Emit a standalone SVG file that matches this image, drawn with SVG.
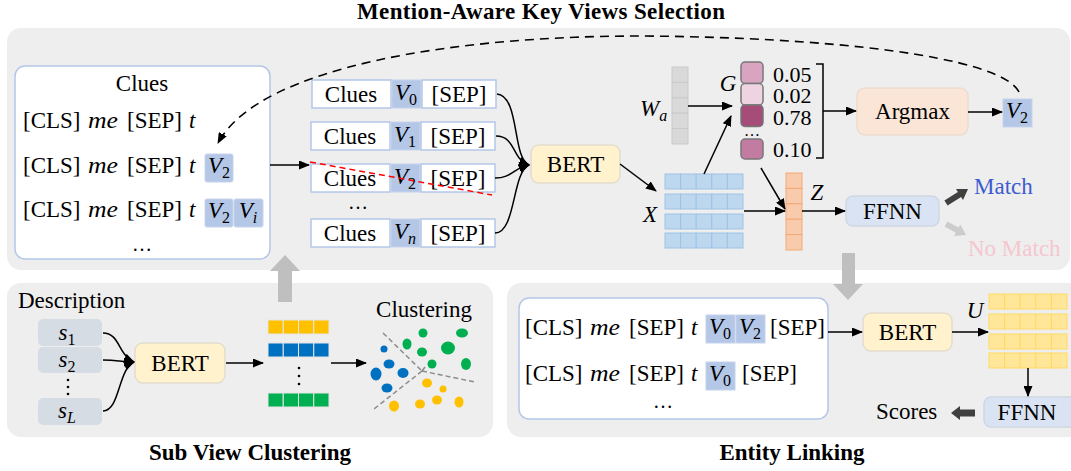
<svg xmlns="http://www.w3.org/2000/svg" xmlns:xlink="http://www.w3.org/1999/xlink" width="1071" height="471" viewBox="0 0 1071 471">
<style>
text{font-family:"Liberation Serif","Times New Roman",serif;font-size:23px;fill:#000}
.i{font-style:italic}
.b{font-weight:bold}
.sub{font-size:16px;font-style:normal}
.subi{font-size:16px;font-style:italic}
.num{font-size:22px}
.panel{fill:#eeeeee}
.wbox{fill:#ffffff;stroke:#b4c7e7;stroke-width:1.5}
.vbox{fill:#b4c7e7;stroke:#c6d4ec;stroke-width:1}
.bert{fill:#fff2cc;stroke:#e3ddcf;stroke-width:1.5}
.ffnn{fill:#dae3f3;stroke:#cfd7e5;stroke-width:1.5}
.argmax{fill:#fbe5d6;stroke:#ecdcd0;stroke-width:1.5}
.sbox{fill:#d6dce4}
.ln{fill:none;stroke:#000;stroke-width:1.5}
.dash{fill:none;stroke:#000;stroke-width:1.6;stroke-dasharray:9 6}
.gray{fill:#bfbfbf}
.g{stroke:#777777;stroke-width:1.5}
.cl{fill:none;stroke:#8c8c8c;stroke-width:1.5;stroke-dasharray:5 3}
</style>
<defs>
<marker id="ah" markerUnits="userSpaceOnUse" markerWidth="11" markerHeight="9" refX="10" refY="4.5" orient="auto"><path d="M0,0 L11,4.5 L0,9 z" fill="#000"/></marker>
<g id="c5h"><rect x="0" y="0" width="15.6" height="15"/><rect x="15.6" y="0" width="15.6" height="15"/><rect x="31.2" y="0" width="15.6" height="15"/><rect x="46.8" y="0" width="15.6" height="15"/><rect x="62.4" y="0" width="15.6" height="15"/></g>
<g id="c5v"><rect x="0" y="0" width="16" height="15.4"/><rect x="0" y="15.4" width="16" height="15.4"/><rect x="0" y="30.8" width="16" height="15.4"/><rect x="0" y="46.2" width="16" height="15.4"/><rect x="0" y="61.6" width="16" height="15.4"/></g>
<g id="c4h"><rect x="0" y="0" width="15.25" height="14"/><rect x="15.25" y="0" width="15.25" height="14"/><rect x="30.5" y="0" width="15.25" height="14"/><rect x="45.75" y="0" width="15.25" height="14"/></g>
</defs>

<rect width="1071" height="471" fill="#ffffff"/>

<!-- panels -->
<g id="panels">
<rect class="panel" x="7" y="28" width="1063" height="242" rx="14"/>
<rect class="panel" x="7" y="283" width="486" height="154" rx="14"/>
<rect class="panel" x="507" y="283" width="580" height="154" rx="14"/>
<text class="b" x="541" y="19" text-anchor="middle" textLength="368">Mention-Aware Key Views Selection</text>
<text class="b" x="250" y="460" text-anchor="middle">Sub View Clustering</text>
<text class="b" x="792" y="460" text-anchor="middle">Entity Linking</text>
</g>

<!-- big gray arrows -->
<g id="flow-arrows">
<path class="gray" d="M278,302 V271 H270 L285,255 L300,271 H292 V302 z"/>
<path class="gray" d="M842,253 V284 H833 L848,300 L863,284 H855 V253 z"/>
</g>

<!-- clues box -->
<g id="clues">
<rect class="wbox" x="15" y="66" width="255" height="193" rx="10"/>
<text x="142" y="91" text-anchor="middle">Clues</text>
<text x="23" y="128">[CLS]</text><text class="i" x="88" y="128" textLength="30" lengthAdjust="spacingAndGlyphs">me</text><text x="127" y="128">[SEP]</text><text class="i" x="189" y="128">t</text>
<text x="23" y="173">[CLS]</text><text class="i" x="88" y="173" textLength="30" lengthAdjust="spacingAndGlyphs">me</text><text x="127" y="173">[SEP]</text><text class="i" x="189" y="173">t</text>
<rect class="vbox" x="205" y="154" width="28" height="28" rx="2"/>
<text class="i" x="219" y="173" text-anchor="middle">V<tspan class="sub" dy="5">2</tspan></text>
<text x="23" y="217">[CLS]</text><text class="i" x="88" y="217" textLength="30" lengthAdjust="spacingAndGlyphs">me</text><text x="127" y="217">[SEP]</text><text class="i" x="189" y="217">t</text>
<rect class="vbox" x="205" y="199" width="28" height="28" rx="2"/>
<text class="i" x="219" y="218" text-anchor="middle">V<tspan class="sub" dy="5">2</tspan></text>
<rect class="vbox" x="234" y="199" width="29" height="28" rx="2"/>
<text class="i" x="248" y="218" text-anchor="middle">V<tspan class="subi" dy="5">i</tspan></text>
<text x="142" y="251" text-anchor="middle" style="font-size:20px">…</text>
</g>

<!-- candidate list -->
<g id="candidates">
<rect class="wbox" x="312" y="80" width="79" height="28"/>
<rect class="vbox" x="392" y="80" width="29" height="28"/>
<rect class="wbox" x="422" y="80" width="74" height="28"/>
<text x="351" y="102" text-anchor="middle">Clues</text>
<text class="i" x="406" y="100" text-anchor="middle">V<tspan class="sub" dy="5">0</tspan></text>
<text x="459" y="102" text-anchor="middle">[SEP]</text>

<rect class="wbox" x="311" y="122" width="79" height="28"/>
<rect class="vbox" x="391" y="122" width="29" height="28"/>
<rect class="wbox" x="421" y="122" width="74" height="28"/>
<text x="350" y="144" text-anchor="middle">Clues</text>
<text class="i" x="405" y="142" text-anchor="middle">V<tspan class="sub" dy="5">1</tspan></text>
<text x="458" y="144" text-anchor="middle">[SEP]</text>

<rect class="wbox" x="311" y="164" width="79" height="28"/>
<rect class="vbox" x="391" y="164" width="29" height="28"/>
<rect class="wbox" x="421" y="164" width="74" height="28"/>
<text x="350" y="186" text-anchor="middle">Clues</text>
<text class="i" x="405" y="184" text-anchor="middle">V<tspan class="sub" dy="5">2</tspan></text>
<text x="458" y="186" text-anchor="middle">[SEP]</text>

<text x="358" y="209" text-anchor="middle" style="font-size:20px">…</text>

<rect class="wbox" x="311" y="219" width="79" height="28"/>
<rect class="vbox" x="391" y="219" width="29" height="28"/>
<rect class="wbox" x="421" y="219" width="74" height="28"/>
<text x="350" y="241" text-anchor="middle">Clues</text>
<text class="i" x="405" y="239" text-anchor="middle">V<tspan class="subi" dy="5">n</tspan></text>
<text x="458" y="241" text-anchor="middle">[SEP]</text>
<line x1="310" y1="162" x2="492" y2="195" stroke="#ff0000" stroke-width="1.5" stroke-dasharray="6 4"/>
</g>

<g id="bert-top">
<rect class="bert" x="531" y="145" width="89" height="38" rx="8"/>
<text x="575.5" y="172" text-anchor="middle">BERT</text>
</g>

<g id="wa">
<use href="#c5v" x="672" y="67" fill="#d9d9d9" stroke="#c9c9c9"/>
<text class="i" x="640" y="116">W<tspan class="subi" dy="5">a</tspan></text>
</g>

<g id="x-matrix">
<use href="#c5h" x="665" y="174" fill="#bdd7ee" stroke="#9dc3e6"/>
<use href="#c5h" x="665" y="194" fill="#bdd7ee" stroke="#9dc3e6"/>
<use href="#c5h" x="665" y="214" fill="#bdd7ee" stroke="#9dc3e6"/>
<use href="#c5h" x="665" y="233" fill="#bdd7ee" stroke="#9dc3e6"/>
<text class="i" x="650" y="222" text-anchor="middle">X</text>
</g>

<g id="g-scores">
<text class="i" x="728" y="91" text-anchor="middle">G</text>
<rect class="g" x="741" y="62" width="22" height="21.5" rx="4" fill="#d8a4c0"/>
<rect class="g" x="741" y="83.5" width="22" height="21.5" rx="4" fill="#eed3e1"/>
<rect class="g" x="741" y="105" width="22" height="21.5" rx="4" fill="#a64c79"/>
<text x="752" y="136" text-anchor="middle" style="font-size:16px">…</text>
<rect class="g" x="741" y="139" width="22" height="20" rx="4" fill="#c47ba1"/>
<text class="num" x="773" y="82">0.05</text>
<text class="num" x="773" y="103">0.02</text>
<text class="num" x="773" y="125">0.78</text>
<text class="num" x="773" y="157">0.10</text>
<path class="ln" d="M816,64 H823 V158 H816"/>
</g>

<g id="argmax">
<rect class="argmax" x="857" y="88" width="111" height="47" rx="8"/>
<text x="912.5" y="119" text-anchor="middle">Argmax</text>
</g>

<g id="v2-out">
<rect class="vbox" x="1003" y="99" width="29" height="28"/>
<text class="i" x="1017" y="118" text-anchor="middle">V<tspan class="sub" dy="5">2</tspan></text>
</g>

<g id="z-col">
<use href="#c5v" x="786" y="173" fill="#f8cbad" stroke="#f4a876"/>
<text class="i" x="817" y="200" text-anchor="middle">Z</text>
</g>

<g id="ffnn-top">
<rect class="ffnn" x="846" y="196" width="93" height="30" rx="7"/>
<text x="892.5" y="219" text-anchor="middle">FFNN</text>
</g>

<g id="match">
<polygon fill="#404040" points="947.6,205.5 961.1,196.9 963,199.9 968,189 956,188.9 957.9,191.9 944.4,200.5"/>
<text x="974" y="194" style="fill:#3b5ccf">Match</text>
</g>
<g id="nomatch">
<polygon fill="#cccccc" points="944.6,226.6 955.8,232.8 954.1,235.9 966,235 960.3,224.5 958.6,227.6 947.4,221.4"/>
<text x="968" y="256" style="fill:#f5c6d0">No Match</text>
</g>

<!-- bottom left -->
<g id="description">
<text x="18" y="308">Description</text>
<rect class="sbox" x="38" y="319" width="64" height="27" rx="5"/>
<rect class="sbox" x="38" y="347" width="64" height="26" rx="5"/>
<rect class="sbox" x="38" y="398" width="64" height="27" rx="5"/>
<text class="i" x="67" y="340" text-anchor="middle">s<tspan class="sub" dy="5">1</tspan></text>
<text class="i" x="67" y="367" text-anchor="middle">s<tspan class="sub" dy="5">2</tspan></text>
<text class="i" x="67" y="418" text-anchor="middle">s<tspan class="subi" dy="5">L</tspan></text>
<circle cx="68" cy="380" r="1.3"/><circle cx="68" cy="387" r="1.3"/><circle cx="68" cy="394" r="1.3"/>
</g>

<g id="bert-bl">
<rect class="bert" x="135" y="343" width="90" height="40" rx="8"/>
<text x="180" y="371" text-anchor="middle">BERT</text>
</g>

<g id="embeddings">
<use href="#c4h" x="268" y="320" fill="#ffc000" stroke="#e6e6e6"/>
<use href="#c4h" x="268" y="343" fill="#0070c0" stroke="#e6e6e6"/>
<use href="#c4h" x="268" y="393" fill="#00b050" stroke="#e6e6e6"/>
<circle cx="299" cy="368" r="1.3"/><circle cx="299" cy="376" r="1.3"/><circle cx="299" cy="384" r="1.3"/>
</g>

<g id="clustering">
<text x="424" y="317" text-anchor="middle">Clustering</text>
<path class="cl" d="M383,333 L422,371 M422,371 L475,382 M422,371 L374,409 M422,371 L425,367"/>
<g fill="#0070c0">
<ellipse cx="384" cy="349" rx="3.5" ry="3.5"/>
<ellipse cx="389" cy="364" rx="5.5" ry="4.5"/>
<ellipse cx="376" cy="374" rx="5.5" ry="6.5"/>
<ellipse cx="403" cy="373" rx="5.5" ry="5"/>
<ellipse cx="387" cy="388" rx="5.5" ry="4.5"/>
</g>
<g fill="#00b050">
<ellipse cx="423" cy="333" rx="4.5" ry="4.5"/>
<ellipse cx="462" cy="333" rx="6" ry="4.5"/>
<ellipse cx="407" cy="344" rx="4.5" ry="5.5"/>
<ellipse cx="422" cy="352" rx="5" ry="4.5"/>
<ellipse cx="448" cy="348" rx="7" ry="6.5"/>
<ellipse cx="432" cy="364" rx="4.5" ry="4.5"/>
<ellipse cx="466" cy="364" rx="5" ry="6"/>
</g>
<g fill="#ffc000">
<ellipse cx="427" cy="383" rx="5" ry="4.5"/>
<ellipse cx="443" cy="389" rx="3.5" ry="3.5"/>
<ellipse cx="394" cy="406" rx="5" ry="5.5"/>
<ellipse cx="420" cy="404" rx="5" ry="4.5"/>
<ellipse cx="437" cy="400" rx="5" ry="4.5"/>
<ellipse cx="459" cy="402" rx="4.5" ry="5.5"/>
</g>
</g>

<!-- bottom right -->
<g id="el-input">
<rect class="wbox" x="519" y="298" width="309" height="121" rx="10"/>
<text x="525" y="335">[CLS]</text><text class="i" x="590" y="335" textLength="30" lengthAdjust="spacingAndGlyphs">me</text><text x="629" y="335">[SEP]</text><text class="i" x="691" y="335">t</text>
<rect class="vbox" x="706" y="315" width="29" height="28"/>
<text class="i" x="720" y="334" text-anchor="middle">V<tspan class="sub" dy="5">0</tspan></text>
<rect class="vbox" x="736" y="315" width="29" height="28"/>
<text class="i" x="750" y="334" text-anchor="middle">V<tspan class="sub" dy="5">2</tspan></text>
<text x="770" y="335">[SEP]</text>
<text x="525" y="381">[CLS]</text><text class="i" x="590" y="381" textLength="30" lengthAdjust="spacingAndGlyphs">me</text><text x="629" y="381">[SEP]</text><text class="i" x="691" y="381">t</text>
<rect class="vbox" x="706" y="362" width="29" height="28"/>
<text class="i" x="720" y="381" text-anchor="middle">V<tspan class="sub" dy="5">0</tspan></text>
<text x="742" y="381">[SEP]</text>
<text x="663" y="408" text-anchor="middle" style="font-size:20px">…</text>
</g>

<g id="bert-br">
<rect class="bert" x="863" y="313" width="89" height="38" rx="8"/>
<text x="907.5" y="340" text-anchor="middle">BERT</text>
</g>

<g id="u-matrix">
<use href="#c5h" x="989" y="294" fill="#ffe699" stroke="#ffd966"/>
<use href="#c5h" x="989" y="314" fill="#ffe699" stroke="#ffd966"/>
<use href="#c5h" x="989" y="334" fill="#ffe699" stroke="#ffd966"/>
<use href="#c5h" x="989" y="353" fill="#ffe699" stroke="#ffd966"/>
<text class="i" x="975" y="318" text-anchor="middle">U</text>
</g>

<g id="ffnn-br">
<rect class="ffnn" x="984" y="397" width="100" height="30" rx="7"/>
<text x="1027" y="420" text-anchor="middle">FFNN</text>
</g>

<g id="scores">
<text x="876" y="419">Scores</text>
<polygon fill="#404040" points="975,409.5 960,409.5 960,406 951,413 960,420 960,416.5 975,416.5"/>
</g>

<!-- connectors -->
<g id="connectors">
<path class="dash" d="M1019,92 C1000,55 820,37 640,36 C460,36 260,65 218,143" marker-end="url(#ah)"/>
<line class="ln" x1="270" y1="165" x2="309" y2="165" marker-end="url(#ah)"/>
<path class="ln" d="M497,94 C520,96 512,158 529,165" marker-end="url(#ah)"/>
<path class="ln" d="M496,136 C516,136 512,160 529,165" marker-end="url(#ah)"/>
<path class="ln" d="M495,178 C512,178 513,168 529,165" marker-end="url(#ah)"/>
<path class="ln" d="M495,233 C516,233 512,172 529,165" marker-end="url(#ah)"/>
<line class="ln" x1="620" y1="164" x2="656" y2="191" marker-end="url(#ah)"/>
<line class="ln" x1="704" y1="174" x2="731" y2="116" marker-end="url(#ah)"/>
<line class="ln" x1="688" y1="106" x2="732" y2="106" marker-end="url(#ah)"/>
<line class="ln" x1="761" y1="168" x2="785" y2="209" marker-end="url(#ah)"/>
<line class="ln" x1="744" y1="211" x2="785" y2="211" marker-end="url(#ah)"/>
<line class="ln" x1="802" y1="211" x2="845" y2="211" marker-end="url(#ah)"/>
<line class="ln" x1="823" y1="111" x2="856" y2="111" marker-end="url(#ah)"/>
<line class="ln" x1="968" y1="112" x2="1002" y2="112" marker-end="url(#ah)"/>
<path class="ln" d="M103,333 C120,333 118,355 134,362" marker-end="url(#ah)"/>
<path class="ln" d="M103,360 C118,360 120,362 134,362" marker-end="url(#ah)"/>
<path class="ln" d="M103,411 C120,411 118,369 134,362" marker-end="url(#ah)"/>
<line class="ln" x1="226" y1="363" x2="263" y2="363" marker-end="url(#ah)"/>
<line class="ln" x1="331" y1="363" x2="366" y2="363" marker-end="url(#ah)"/>
<line class="ln" x1="828" y1="332" x2="862" y2="332" marker-end="url(#ah)"/>
<line class="ln" x1="952" y1="332" x2="988" y2="332" marker-end="url(#ah)"/>
<line class="ln" x1="1028" y1="368" x2="1028" y2="396" marker-end="url(#ah)"/>
</g>
</svg>
